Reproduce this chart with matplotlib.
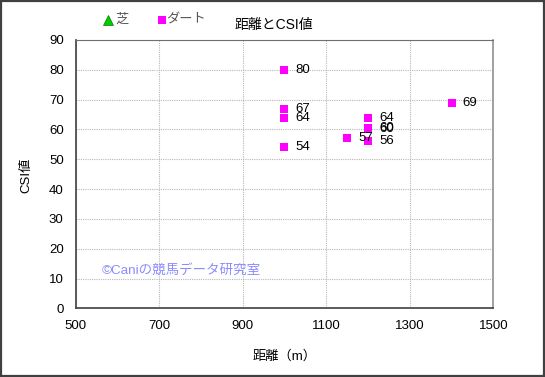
import matplotlib
matplotlib.use("Agg")
import matplotlib.pyplot as plt
from matplotlib.patches import Rectangle
from matplotlib.lines import Line2D

plt.rcParams['font.family'] = ['Liberation Sans', 'Noto Sans CJK JP', 'DejaVu Sans']

# data
shiba_x = []
shiba_y = []
dirt_x = [1000, 1000, 1000, 1000, 1150, 1200, 1200, 1200, 1200, 1400]
dirt_y = [80, 67, 64, 54, 57, 64, 60.4, 60.0, 56, 69]
dirt_labels = ["80", "67", "64", "54", "57", "64", "60", "60", "56", "69"]
x_ticks = [500, 700, 900, 1100, 1300, 1500]
y_ticks = [0, 10, 20, 30, 40, 50, 60, 70, 80, 90]

W, H = 545, 377
fig = plt.figure(figsize=(W / 100, H / 100), dpi=100)
fig.patch.set_facecolor("white")
fig.add_artist(Rectangle((0.002, 0.003), 0.996, 0.994, transform=fig.transFigure,
                         fill=False, edgecolor="#404040", linewidth=1.6))

ax = fig.add_axes([75.5 / W, 1 - 308.4 / H, 417.8 / W, 268.4 / H])
ax.scatter(shiba_x, shiba_y, marker="^", color="#00cc00", s=30)
ax.scatter(dirt_x, dirt_y, marker="s", color="#ff00ff", s=30, linewidths=0, zorder=3)
for x, y, lab in zip(dirt_x, dirt_y, dirt_labels):
    ax.annotate(lab, (x, y), xytext=(8, 0), textcoords="offset points",
                va="center", ha="left", fontsize=9.5, color="black")

ax.set_xlim(500, 1500)
ax.set_ylim(0, 90)
ax.set_xticks(x_ticks)
ax.set_yticks(y_ticks)
ax.tick_params(labelsize=9.5, length=0, pad=8.5)
ax.grid(True, color="#b8b8b8", linestyle=(0, (1, 1)), linewidth=0.8)
ax.spines["top"].set_color("#707070")
ax.spines["right"].set_color("#909090")
ax.spines["right"].set_linewidth(1.2)
for s in ["left", "bottom"]:
    ax.spines[s].set_color("#404040")
    ax.spines[s].set_linewidth(1.2)

fig.text(284.5 / W, 1 - 356 / H, "距離（m）", fontsize=9.5, ha="center", va="center")
fig.text(26.7 / W, 1 - 175.5 / H, "CSI値", fontsize=9.5, ha="center", va="center",
         rotation=90)

ax.text(564, 12.6, "©Caniの競馬データ研究室", color="#8c8cff", fontsize=9.7,
        va="center", ha="left")

fig.text(274 / W, 1 - 25.5 / H, "距離とCSI値", ha="center", va="center", fontsize=10)

# legend
fig.add_artist(Line2D([107.7 / W], [1 - 19.8 / H], marker="^", color="#00cc00",
                      markersize=6.5, markeredgecolor="#008000", markeredgewidth=0.5,
                      linestyle="none", transform=fig.transFigure))
fig.text(115 / W, 1 - 20 / H, "芝", fontsize=9.5, ha="left", va="center", color="#555555")
fig.add_artist(Line2D([162 / W], [1 - 20 / H], marker="s", color="#ff00ff",
                      markersize=5.6, markeredgewidth=0, linestyle="none",
                      transform=fig.transFigure))
fig.text(166.7 / W, 1 - 20 / H, "ダート", fontsize=9.5, ha="left", va="center",
         color="#555555")

fig.savefig("out.png", dpi=100)
